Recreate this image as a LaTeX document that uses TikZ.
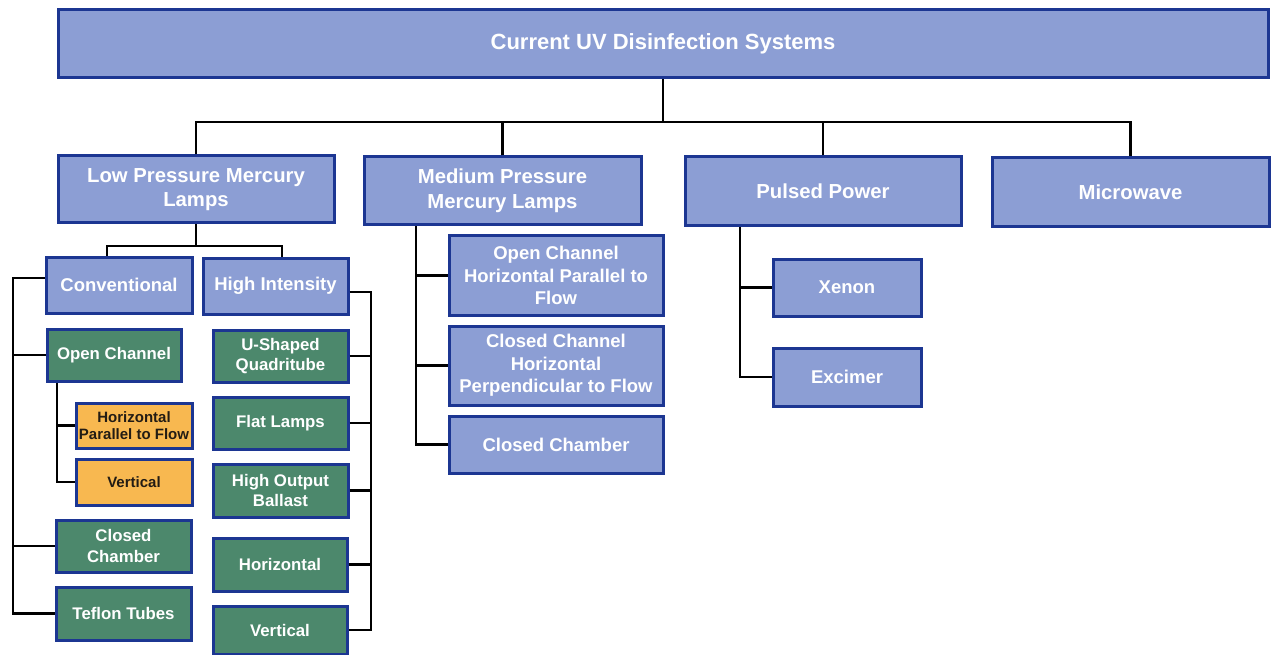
\documentclass[tikz,border=0pt]{standalone}
\usepackage{fontspec}
\setmainfont{Liberation Sans}
\definecolor{bfill}{RGB}{140,158,212}
\definecolor{bdraw}{RGB}{28,54,146}
\definecolor{gfill}{RGB}{76,136,108}
\definecolor{ofill}{RGB}{248,184,80}
\definecolor{otext}{RGB}{35,28,20}
\tikzset{
  box/.style={draw=bdraw, line width=3pt, inner sep=0pt, align=center, font=\bfseries, text=white},
  bluebox/.style={box, fill=bfill},
  greenbox/.style={box, fill=gfill},
  orangebox/.style={box, fill=ofill, text=otext},
  conn/.style={draw=black, line width=2.8pt},
  f22/.style={font=\bfseries\fontsize{22}{26}\selectfont},
  f20/.style={font=\bfseries\fontsize{20.3}{24.5}\selectfont},
  f18/.style={font=\bfseries\fontsize{18.5}{22.3}\selectfont},
  f17/.style={font=\bfseries\fontsize{16.8}{20.2}\selectfont},
  f15/.style={font=\bfseries\fontsize{15}{17.7}\selectfont},
}
\begin{document}
\begin{tikzpicture}[x=1pt,y=-1pt]
\useasboundingbox (0,0) rectangle (1277,655);
% connectors first (under the boxes)
\coordinate (bus) at (663,122);
\coordinate (lj) at (196,246);
\coordinate (lx) at (13,0);
\coordinate (ox) at (57,0);
\coordinate (rx) at (371,0);
\coordinate (mx) at (416,0);
\coordinate (px) at (740,0);
% level 0
\node[bluebox,f22,minimum width=1210pt,minimum height=68pt] (root) at (663,44) {Current UV Disinfection Systems};
% level 1
\node[bluebox,f20,minimum width=276pt,minimum height=67pt] (lpm) at (196,189.5) {Low Pressure Mercury\\Lamps};
\node[bluebox,f20,minimum width=277pt,minimum height=68pt] (mpm) at (502.5,191) {Medium Pressure\\Mercury Lamps};
\node[bluebox,f20,minimum width=276pt,minimum height=69pt] (pul) at (823,191.5) {Pulsed Power};
\node[bluebox,f20,minimum width=277pt,minimum height=69pt] (mic) at (1130.5,192.5) {Microwave};
% low pressure
\node[bluebox,f18,minimum width=146pt,minimum height=56pt] (conv) at (119,285) {Conventional};
\node[bluebox,f18,minimum width=145pt,minimum height=56pt] (hi) at (275.5,286) {High Intensity};
\node[greenbox,f17,minimum width=134pt,minimum height=52pt] (oc) at (114,355) {Open Channel};
\node[orangebox,f15,minimum width=116pt,minimum height=45pt] (hp) at (134,425.5) {Horizontal\\Parallel to Flow};
\node[orangebox,f15,minimum width=116pt,minimum height=46pt] (vo) at (134,482) {Vertical};
\node[greenbox,f17,minimum width=135pt,minimum height=52pt] (cc) at (123.5,546) {Closed\\Chamber};
\node[greenbox,f17,minimum width=135pt,minimum height=53pt] (tt) at (123.5,613.5) {Teflon Tubes};
\node[greenbox,f17,minimum width=135pt,minimum height=52pt] (us) at (280.5,356) {U-Shaped\\Quadritube};
\node[greenbox,f17,minimum width=135pt,minimum height=52pt] (fl) at (280.5,423) {Flat Lamps};
\node[greenbox,f17,minimum width=135pt,minimum height=53pt] (hob) at (280.5,490.5) {High Output\\Ballast};
\node[greenbox,f17,minimum width=134pt,minimum height=53pt] (hz) at (280,564.5) {Horizontal};
\node[greenbox,f17,minimum width=134pt,minimum height=48pt] (vg) at (280,630) {Vertical};
% medium pressure
\node[bluebox,f18,minimum width=214pt,minimum height=79pt] (moc) at (556,275.5) {Open Channel\\Horizontal Parallel to\\Flow};
\node[bluebox,f18,minimum width=214pt,minimum height=79pt] (mcc) at (556,365.5) {Closed Channel\\Horizontal\\Perpendicular to Flow};
\node[bluebox,f18,minimum width=214pt,minimum height=57pt] (mch) at (556,444.5) {Closed Chamber};
% pulsed
\node[bluebox,f18,minimum width=148pt,minimum height=57pt] (xe) at (847,287.5) {Xenon};
\node[bluebox,f18,minimum width=148pt,minimum height=58pt] (ex) at (847,377) {Excimer};
\begin{scope}[conn]
\draw (root.south) -- (bus);
\draw (lpm.north) |- (bus) -| (mic.north);
\draw (mpm.north) -- (mpm.north |- bus);
\draw (pul.north) -- (pul.north |- bus);
\draw (lpm.south) -- (lj);
\draw ([xshift=-12pt]conv.north) |- (lj) -| ([xshift=6.5pt]hi.north);
\draw ([yshift=7pt]conv.west) -| (lx |- tt.west) -- (tt.west);
\draw (oc.west) -- (oc.west -| lx);
\draw (cc.west) -- (cc.west -| lx);
\draw (ox |- oc.south) |- (vo.west);
\draw (hp.west) -- (hp.west -| ox);
\draw ([yshift=-6pt]hi.east) -| (rx |- vg.east) -- (vg.east);
\draw (us.east) -- (us.east -| rx);
\draw (fl.east) -- (fl.east -| rx);
\draw (hob.east) -- (hob.east -| rx);
\draw (hz.east) -- (hz.east -| rx);
\draw (mx |- mpm.south) |- (mch.west);
\draw (moc.west) -- (moc.west -| mx);
\draw (mcc.west) -- (mcc.west -| mx);
\draw (px |- pul.south) |- (ex.west);
\draw (xe.west) -- (xe.west -| px);
\end{scope}
\end{tikzpicture}
\end{document}
